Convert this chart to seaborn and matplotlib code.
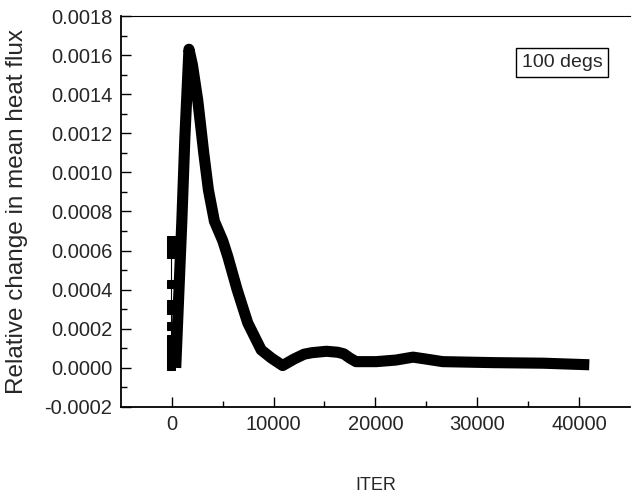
import matplotlib
matplotlib.use("Agg")
import matplotlib.pyplot as plt
from matplotlib.ticker import FormatStrFormatter, MultipleLocator, FixedLocator
import seaborn as sns
import pandas as pd

# main curve (thick line)
iter_main = [400, 1000, 1300, 1700, 2040, 2560, 2890, 3150, 3610, 4200, 5020, 5510,
             6430, 7470, 8790, 9800, 10900, 12000, 13000, 13800, 15200, 16300,
             16900, 17500, 18100, 20100, 22000, 23700, 25000, 26600, 31500, 36500,
             41000]
flux_main = [0.0, 0.00075, 0.00118, 0.00163, 0.00155, 0.00137, 0.00122, 0.00110,
             0.00091, 0.00075, 0.00065, 0.00057, 0.00040, 0.00023, 0.000092,
             0.00005, 0.000012, 0.000045, 0.00007, 0.000078, 0.000085, 0.00008,
             0.000072, 0.00005, 0.000032, 0.000032, 0.00004, 0.000055, 0.000045,
             0.000032, 0.000027, 0.000024, 0.000016]

# early squares near ITER = 0
iter_sq = [-30] * 12
flux_sq = [0.000654, 0.000618, 0.000582, 0.000427, 0.000325, 0.000294,
           0.000216, 0.00015, 0.000119, 0.000083, 0.000047, 0.000011]

sns.set_style("ticks")
plt.rcParams['font.family'] = ['Liberation Sans', 'DejaVu Sans']

fig = plt.figure(figsize=(6.33, 4.97), dpi=100)
ax = fig.add_axes([0.1907, 0.1811, 0.8046, 0.7867])

df_main = pd.DataFrame({"ITER": iter_main, "flux": flux_main})
df_sq = pd.DataFrame({"ITER": iter_sq, "flux": flux_sq})

sns.lineplot(data=df_sq, x="ITER", y="flux", ax=ax, sort=False, estimator=None,
             color="black", linewidth=0.8, marker="s", markersize=6,
             markeredgecolor="black")
sns.lineplot(data=df_main, x="ITER", y="flux", ax=ax, sort=False, estimator=None,
             color="black", linewidth=8, solid_capstyle="butt",
             solid_joinstyle="round")

ax.set_xlim(-5000, 45000)
ax.set_ylim(-0.0002, 0.0018)
ax.xaxis.set_major_locator(FixedLocator([0, 10000, 20000, 30000, 40000]))
ax.xaxis.set_minor_locator(FixedLocator([5000, 15000, 25000, 35000]))
ax.yaxis.set_major_locator(MultipleLocator(0.0002))
ax.yaxis.set_minor_locator(MultipleLocator(0.0001))
ax.xaxis.set_major_formatter(FormatStrFormatter('%d'))
ax.yaxis.set_major_formatter(FormatStrFormatter('%.4f'))

ax.tick_params(which="both", direction="in", color="black", width=1)
ax.tick_params(which="major", length=7, labelsize=14.5, pad=6)
ax.tick_params(which="minor", length=4)

ax.spines["right"].set_visible(False)
ax.spines["top"].set_linewidth(0.8)
ax.spines["left"].set_linewidth(1.3)
ax.spines["bottom"].set_linewidth(1.3)
for s in ax.spines.values():
    s.set_color("black")

ax.set_xlabel("ITER", fontsize=13)
ax.set_ylabel("Relative change in mean heat flux", fontsize=17.5)
ax.xaxis.set_label_coords(0.5, -0.179)
ax.yaxis.set_label_coords(-0.182, 0.5)

ax.text(0.8665, 0.881, "100 degs", transform=ax.transAxes, ha="center", va="center",
        fontsize=14, bbox=dict(boxstyle="square,pad=0.3", fc="white", ec="black", lw=1))

fig.savefig("out.png", dpi=100)
